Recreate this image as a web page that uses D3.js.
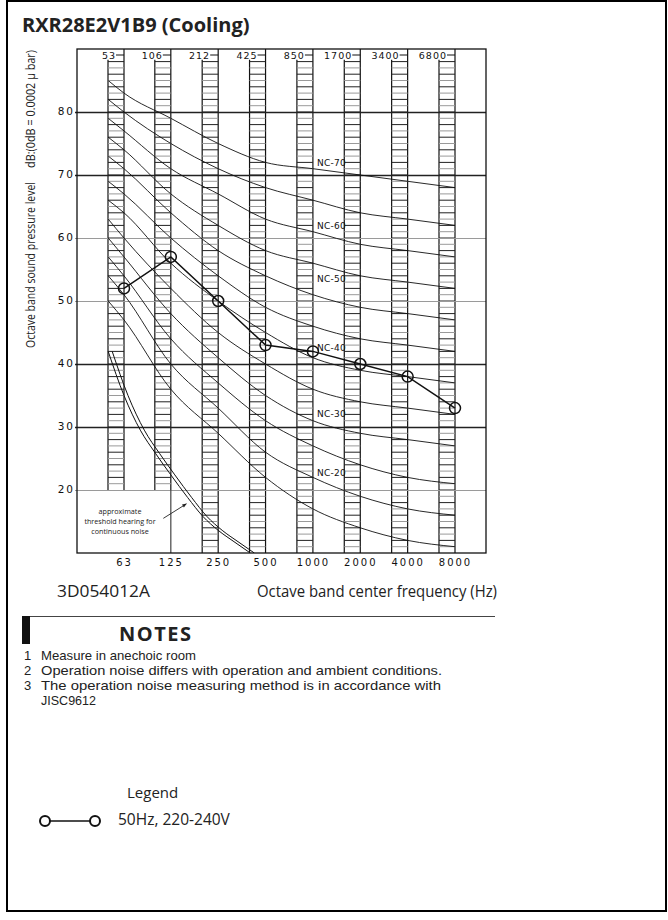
<!DOCTYPE html>
<html>
<head>
<meta charset="utf-8">
<script src="https://cdn.jsdelivr.net/npm/d3@7"></script>
<style>
  body { margin: 0; background: #fff; }
  svg { display: block; }
  .tech { font-family: "DejaVu Sans", sans-serif; fill: #111; }
  .txt { font-family: "Open Sans", sans-serif; fill: #222; }
  .note { font-family: "Liberation Sans", Arial, sans-serif; fill: #222; }
</style>
</head>
<body>
<div id="chart"></div>
<script>
const width = 668;
const height = 920;

// octave band centre frequencies (Hz), band labels on top, measured levels (dB)
const freqs = [63, 125, 250, 500, 1000, 2000, 4000, 8000];
const bandLabels = [53, 106, 212, 425, 850, 1700, 3400, 6800];
const levels = [52, 57, 50, 43, 42, 40, 38, 33];

// NC curves : first value = start of the curve (~50 Hz), then 63..8000 Hz
const ncStartFreq = 50;
const ncNames = ["NC-70", "NC-65", "NC-60", "NC-55", "NC-50", "NC-45",
                 "NC-40", "NC-35", "NC-30", "NC-25", "NC-20", "NC-15"];
const ncValues = [
  [85, 83, 79, 75, 72, 71, 70, 69, 68],
  [82, 80, 75, 71, 68, 66, 64, 63, 62],
  [79, 77, 71, 67, 63, 61, 59, 58, 57],
  [76, 74, 67, 62, 58, 56, 54, 53, 52],
  [73, 71, 64, 58, 54, 51, 49, 48, 47],
  [69, 67, 60, 54, 49, 46, 44, 43, 42],
  [66, 64, 56, 50, 45, 41, 39, 38, 37],
  [63, 60, 52, 45, 40, 36, 34, 33, 32],
  [60, 57, 48, 41, 35, 31, 29, 28, 27],
  [57, 54, 44, 37, 31, 27, 24, 22, 21],
  [54, 51, 40, 33, 26, 22, 19, 17, 16],
  [50, 47, 36, 29, 22, 17, 14, 12, 11],
];
const ncLabelNames = ["NC-70", "NC-60", "NC-50", "NC-40", "NC-30", "NC-20"];
const ncLabelLevels = [72, 62, 53.6, 42.6, 32.2, 22.7];

// approximate threshold of hearing
const thresholdFreqs = [50, 63, 80, 100, 125, 160, 200, 250, 315, 400];
const thresholdLevels = [42, 35, 29.5, 25.8, 22.4, 18.8, 15.8, 13.6, 11.8, 10];

const yTicks = [20, 30, 40, 50, 60, 70, 80];
const yTicksDark = [30, 40, 70, 80];

const notes = [
  ["1", "Measure in anechoic room", 155],
  ["2", "Operation noise differs with operation and ambient conditions.", 401],
  ["3", "The operation noise measuring method is in accordance with", 400],
  ["", "JISC9612", 55],
];

const plot = { left: 77, right: 486, top: 49, bottom: 553 };
const colW = 16;

const svg = d3
  .select("#chart")
  .append("svg")
  .attr("width", width)
  .attr("height", height);

// outer frame
svg.append("rect")
  .attr("x", 7).attr("y", 1)
  .attr("width", 659).attr("height", 910)
  .attr("fill", "none").attr("stroke", "#000").attr("stroke-width", 2);

svg.append("text")
  .attr("class", "txt")
  .attr("x", 22).attr("y", 32)
  .attr("font-size", 20).attr("font-weight", "bold")
  .attr("fill", "#111")
  .text("RXR28E2V1B9 (Cooling)");

// escalas
const xScale = d3.scaleLog().domain([63, 8000]).range([124, 455]);
const yScale = d3.scaleLinear().domain([10, 90]).range([plot.bottom, plot.top]);

// hatched band columns
const cols = svg.append("g");
freqs.forEach((f, i) => {
  const right = xScale(f);
  const left = right - colW;
  const low = i < 2 ? 20 : 10;
  cols.append("line")
    .attr("x1", left).attr("x2", left)
    .attr("y1", yScale(88.3)).attr("y2", yScale(low))
    .attr("stroke", "#111").attr("stroke-width", 1.2);
  cols.append("line")
    .attr("x1", right).attr("x2", right)
    .attr("y1", plot.top).attr("y2", yScale(low))
    .attr("stroke", "#111").attr("stroke-width", 1.2);
  cols.selectAll(".h" + i)
    .data(d3.range(low + 1, 89))
    .enter()
    .append("line")
    .attr("x1", left).attr("x2", right)
    .attr("y1", (d) => yScale(d)).attr("y2", (d) => yScale(d))
    .attr("stroke", (d) => (d % 2 ? "#9a9a9a" : "#222"))
    .attr("stroke-width", 1);
  // band label at the top
  cols.append("text")
    .attr("class", "tech")
    .attr("x", right - 8).attr("y", 58.5)
    .attr("text-anchor", "end")
    .attr("font-size", 9.5)
    .style("letter-spacing", "1px")
    .text(bandLabels[i]);
  cols.append("line")
    .attr("x1", right - 8).attr("x2", right)
    .attr("y1", 55).attr("y2", 55)
    .attr("stroke", "#111");
});

// horizontal grid + y axis labels
const yAxis = d3.axisLeft(yScale)
  .tickValues(yTicks)
  .tickSize(-(plot.right - 75))
  .tickPadding(0);
const yAxisG = svg.append("g")
  .attr("transform", "translate(75,0)")
  .call(yAxis);
yAxisG.select(".domain").remove();
yAxisG.selectAll(".tick line")
  .attr("stroke", (d) => (yTicksDark.includes(d) ? "#222" : "#9a9a9a"))
  .attr("stroke-width", (d) => (yTicksDark.includes(d) ? 1.5 : 1.2));
yAxisG.selectAll(".tick text")
  .attr("class", "tech")
  .attr("font-size", 10.5)
  .attr("dy", "0.2em")
  .style("letter-spacing", "2px");

// box of the threshold note
svg.append("line")
  .attr("x1", xScale(125)).attr("x2", xScale(125))
  .attr("y1", yScale(20)).attr("y2", yScale(10))
  .attr("stroke", "#444").attr("stroke-width", 1.2);

// plot frame
svg.append("rect")
  .attr("x", plot.left).attr("y", plot.top)
  .attr("width", plot.right - plot.left)
  .attr("height", plot.bottom - plot.top)
  .attr("fill", "none").attr("stroke", "#111").attr("stroke-width", 1.3);

// x axis labels
const xAxis = d3.axisBottom(xScale)
  .tickValues(freqs)
  .tickSize(0)
  .tickPadding(6)
  .tickFormat(d3.format("d"));
const xAxisG = svg.append("g")
  .attr("transform", "translate(0," + plot.bottom + ")")
  .call(xAxis);
xAxisG.select(".domain").remove();
xAxisG.selectAll(".tick text")
  .attr("class", "tech")
  .attr("font-size", 10)
  .style("letter-spacing", "2px");

// clip
svg.append("clipPath").attr("id", "clip")
  .append("rect")
  .attr("x", plot.left).attr("y", plot.top)
  .attr("width", plot.right - plot.left)
  .attr("height", plot.bottom - plot.top);

// NC curves
const ncFreqs = [ncStartFreq].concat(freqs);
const ncLine = d3.line()
  .x((d) => xScale(d[0]))
  .y((d) => yScale(d[1]))
  .curve(d3.curveMonotoneX);
svg.append("g")
  .selectAll(".nc")
  .data(ncValues)
  .enter()
  .append("path")
  .attr("class", "nc")
  .attr("d", (vals) => ncLine(vals.map((v, i) => [ncFreqs[i], v])))
  .attr("fill", "none")
  .attr("stroke", "#111")
  .attr("stroke-width", 0.9)
  .attr("clip-path", "url(#clip)");

svg.append("g")
  .selectAll(".ncl")
  .data(ncLabelNames)
  .enter()
  .append("text")
  .attr("class", "tech")
  .attr("x", xScale(1000) + 4)
  .attr("y", (d, i) => yScale(ncLabelLevels[i]) + 3.5)
  .attr("font-size", 9)
  .style("letter-spacing", "0.3px")
  .text((d) => d);

// threshold of hearing (double line)
const thr = thresholdFreqs.map((f, i) => [f, thresholdLevels[i]]);
[0, 4].forEach((dx) => {
  svg.append("path")
    .attr("d", ncLine(thr))
    .attr("transform", "translate(" + dx + ",0)")
    .attr("fill", "none")
    .attr("stroke", "#111")
    .attr("stroke-width", 1)
    .attr("clip-path", "url(#clip)");
});

// threshold note + arrow
const noteX = 120;
["approximate", "threshold hearing for", "continuous noise"].forEach((t, i) => {
  svg.append("text")
    .attr("class", "txt")
    .attr("x", noteX).attr("y", 513.5 + i * 10)
    .attr("text-anchor", "middle")
    .attr("font-size", 7.2)
    .attr("fill", "#333")
    .text(t);
});
const defs = svg.append("defs");
defs.append("marker")
  .attr("id", "arrow")
  .attr("viewBox", "0 0 10 10")
  .attr("refX", 9).attr("refY", 5)
  .attr("markerWidth", 7).attr("markerHeight", 5)
  .attr("orient", "auto")
  .append("path")
  .attr("d", "M0,1 L10,5 L0,9 z")
  .attr("fill", "#222");
svg.append("line")
  .attr("x1", xScale(112)).attr("y1", yScale(15.5))
  .attr("x2", xScale(157)).attr("y2", yScale(17.8))
  .attr("stroke", "#222").attr("stroke-width", 0.9)
  .attr("marker-end", "url(#arrow)");

// measured series
const dataLine = d3.line()
  .x((d, i) => xScale(freqs[i]))
  .y((d) => yScale(d));
svg.append("path")
  .attr("d", dataLine(levels))
  .attr("fill", "none")
  .attr("stroke", "#111")
  .attr("stroke-width", 1.5);
svg.selectAll(".dot")
  .data(levels)
  .enter()
  .append("circle")
  .attr("class", "dot")
  .attr("cx", (d, i) => xScale(freqs[i]))
  .attr("cy", (d) => yScale(d))
  .attr("r", 5.5)
  .attr("fill", "none")
  .attr("stroke", "#111")
  .attr("stroke-width", 1.5);

// y axis title
svg.append("text")
  .attr("class", "txt")
  .attr("transform", "translate(35,348) rotate(-90)")
  .attr("font-size", 12)
  .attr("fill", "#333")
  .attr("textLength", 166)
  .attr("lengthAdjust", "spacingAndGlyphs")
  .text("Octave band sound pressure level");
svg.append("text")
  .attr("class", "txt")
  .attr("transform", "translate(35,168) rotate(-90)")
  .attr("font-size", 12)
  .attr("fill", "#333")
  .attr("textLength", 118)
  .attr("lengthAdjust", "spacingAndGlyphs")
  .text("dB:(0dB = 0.0002 \u00b5 bar)");

// bottom captions
svg.append("text")
  .attr("class", "txt")
  .attr("x", 57).attr("y", 597)
  .attr("font-size", 16)
  .attr("textLength", 93)
  .attr("lengthAdjust", "spacingAndGlyphs")
  .text("3D054012A");
svg.append("text")
  .attr("class", "txt")
  .attr("x", 257).attr("y", 597)
  .attr("font-size", 16)
  .attr("textLength", 240)
  .attr("lengthAdjust", "spacingAndGlyphs")
  .text("Octave band center frequency (Hz)");

// NOTES
svg.append("line")
  .attr("x1", 30).attr("x2", 495)
  .attr("y1", 616.5).attr("y2", 616.5)
  .attr("stroke", "#444").attr("stroke-width", 1);
svg.append("rect")
  .attr("x", 22).attr("y", 616)
  .attr("width", 8).attr("height", 28)
  .attr("fill", "#111");
svg.append("text")
  .attr("class", "txt")
  .attr("x", 119).attr("y", 641)
  .attr("font-size", 20).attr("font-weight", "bold")
  .attr("fill", "#111")
  .style("letter-spacing", "1.5px")
  .text("NOTES");

const notesG = svg.append("g");
notes.forEach((n, i) => {
  notesG.append("text")
    .attr("class", "note")
    .attr("x", 24).attr("y", 660 + i * 15)
    .attr("font-size", 13)
    .text(n[0]);
  notesG.append("text")
    .attr("class", "note")
    .attr("x", 41).attr("y", 660 + i * 15)
    .attr("font-size", 13)
    .attr("textLength", n[2])
    .attr("lengthAdjust", "spacingAndGlyphs")
    .text(n[1]);
});

// legend
svg.append("text")
  .attr("class", "txt")
  .attr("x", 127).attr("y", 798)
  .attr("font-size", 15)
  .text("Legend");
svg.append("line")
  .attr("x1", 45).attr("x2", 95)
  .attr("y1", 821).attr("y2", 821)
  .attr("stroke", "#111").attr("stroke-width", 1.5);
[45, 95].forEach((cx) => {
  svg.append("circle")
    .attr("cx", cx).attr("cy", 821).attr("r", 5)
    .attr("fill", "#fff")
    .attr("stroke", "#111").attr("stroke-width", 2);
});
svg.append("text")
  .attr("class", "txt")
  .attr("x", 118).attr("y", 825)
  .attr("font-size", 15.5)
  .text("50Hz, 220-240V");
</script>
</body>
</html>
